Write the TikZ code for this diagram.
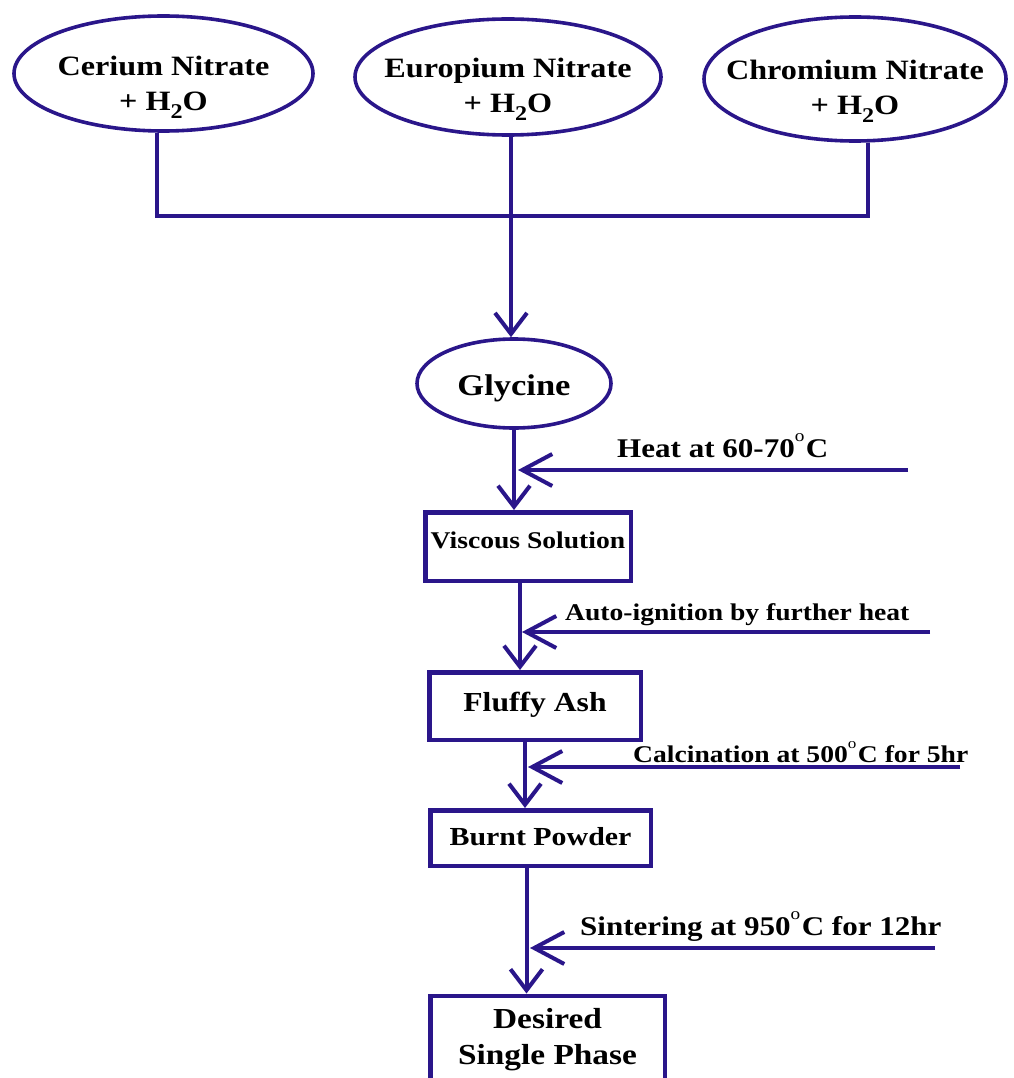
\documentclass[tikz,border=0pt]{standalone}
\usepackage{graphicx}
\usepackage{fontspec}
\setmainfont{Liberation Serif}[FakeStretch=1.15]
\usetikzlibrary{shapes.geometric,arrows.meta}
\definecolor{ink}{RGB}{42,22,138}
\newcommand{\dgo}{\raisebox{0.56em}{\scalebox{0.62}{\mdseries o}}\kern1.5pt}
\newcommand{\hto}{H\raisebox{-0.28em}{\scalebox{0.75}{2}}O}
\begin{document}
\begin{tikzpicture}[x=1pt,y=-1pt,
  ell/.style={draw=ink,line width=3.6pt,ellipse,inner sep=0pt},
  stepbox/.style={draw=ink,line width=4.5pt,rectangle,inner sep=0pt},
  conn/.style={draw=ink,line width=4pt},
  arr/.style={conn,-{Straight Barb[length=21pt,width=32pt]}},
  harr/.style={conn,-{Straight Barb[length=30pt,width=32pt]}},
  ft/.style={font=\bfseries\fontsize{#1}{#1}\selectfont},
  etext/.style={align=center,font=\bfseries\fontsize{28}{35}\selectfont,text=black},
  lbl/.style={anchor=base west,inner sep=0pt,text=black}
]
\path[use as bounding box,fill=white] (0,0) rectangle (1013,1078);

% top ellipses
\node[ell,minimum width=299pt,minimum height=115pt,
  label={[etext,yshift=-14pt]center:Cerium Nitrate\\+ \hto}] (e1) at (163.5,73.5) {};
\node[ell,minimum width=306pt,minimum height=116pt,
  label={[etext,yshift=-12pt]center:Europium Nitrate\\+ \hto}] (e2) at (508,77) {};
\node[ell,minimum width=302pt,minimum height=124pt,
  label={[etext,yshift=-12pt]center:Chromium Nitrate\\+ \hto}] (e3) at (855,79) {};

% glycine
\node[ell,minimum width=194pt,minimum height=89pt,ft=30,text=black,
  text height=29pt,text depth=6pt] (gly) at (514,383.5) {Glycine};

% boxes
\node[stepbox,minimum width=205.5pt,minimum height=68.5pt,ft=24,text=black,
  text height=16pt,text depth=13pt] (visc) at (528,546.5) {Viscous Solution};
\node[stepbox,minimum width=211.5pt,minimum height=67.5pt,ft=27.5,text=black,
  text height=18pt,text depth=8pt] (fluffy) at (535,706) {Fluffy Ash};
\node[stepbox,minimum width=220.5pt,minimum height=55.5pt,ft=26,text=black,
  text height=17.5pt,text depth=3pt] (burnt) at (540.5,838) {Burnt Powder};
\node[stepbox,minimum width=234.5pt,minimum height=88.5pt,align=center,text=black,
  font=\bfseries\fontsize{29}{36}\selectfont] (des) at (547.5,1040) {Desired\\Single Phase};

% joining lines at top
\coordinate (j1) at (157,216);
\coordinate (j3) at (868,216);
\draw[conn] (e1.south -| j1) -- (j1) -- (j3) -- (e3.south -| j3);
\draw[arr] ([xshift=3pt]e2.south) -- ([xshift=3pt]e2.south |- gly.north);

% vertical process arrows
\draw[arr] (gly.south) -- (gly.south |- visc.north);
\draw[arr] ([xshift=-8pt]visc.south) -- ([xshift=-8pt]visc.south |- fluffy.north);
\draw[arr] ([xshift=-10pt]fluffy.south) -- ([xshift=-10pt]fluffy.south |- burnt.north);
\draw[arr] ([xshift=-14pt]burnt.south) -- ([xshift=-14pt]burnt.south |- des.north);

% side inputs
\coordinate (s1) at (908,470); \coordinate (t1) at (518,470);
\coordinate (s2) at (930,632); \coordinate (t2) at (522,632);
\coordinate (s3) at (960,767); \coordinate (t3) at (528,767);
\coordinate (s4) at (935,948); \coordinate (t4) at (530,948);
\draw[harr] (s1) -- (t1);
\draw[harr] (s2) -- (t2);
\draw[harr] (s3) -- (t3);
\draw[harr] (s4) -- (t4);

\node[lbl,ft=27] (l1) at (617,457) {Heat at 60-70\dgo C};
\node[lbl,ft=24] (l2) at (565,620) {Auto-ignition by further heat};
\node[lbl,ft=24] (l3) at (633,762) {Calcination at 500\dgo C for 5hr};
\node[lbl,ft=27] (l4) at (580,935) {Sintering at 950\dgo C for 12hr};
\end{tikzpicture}
\end{document}
